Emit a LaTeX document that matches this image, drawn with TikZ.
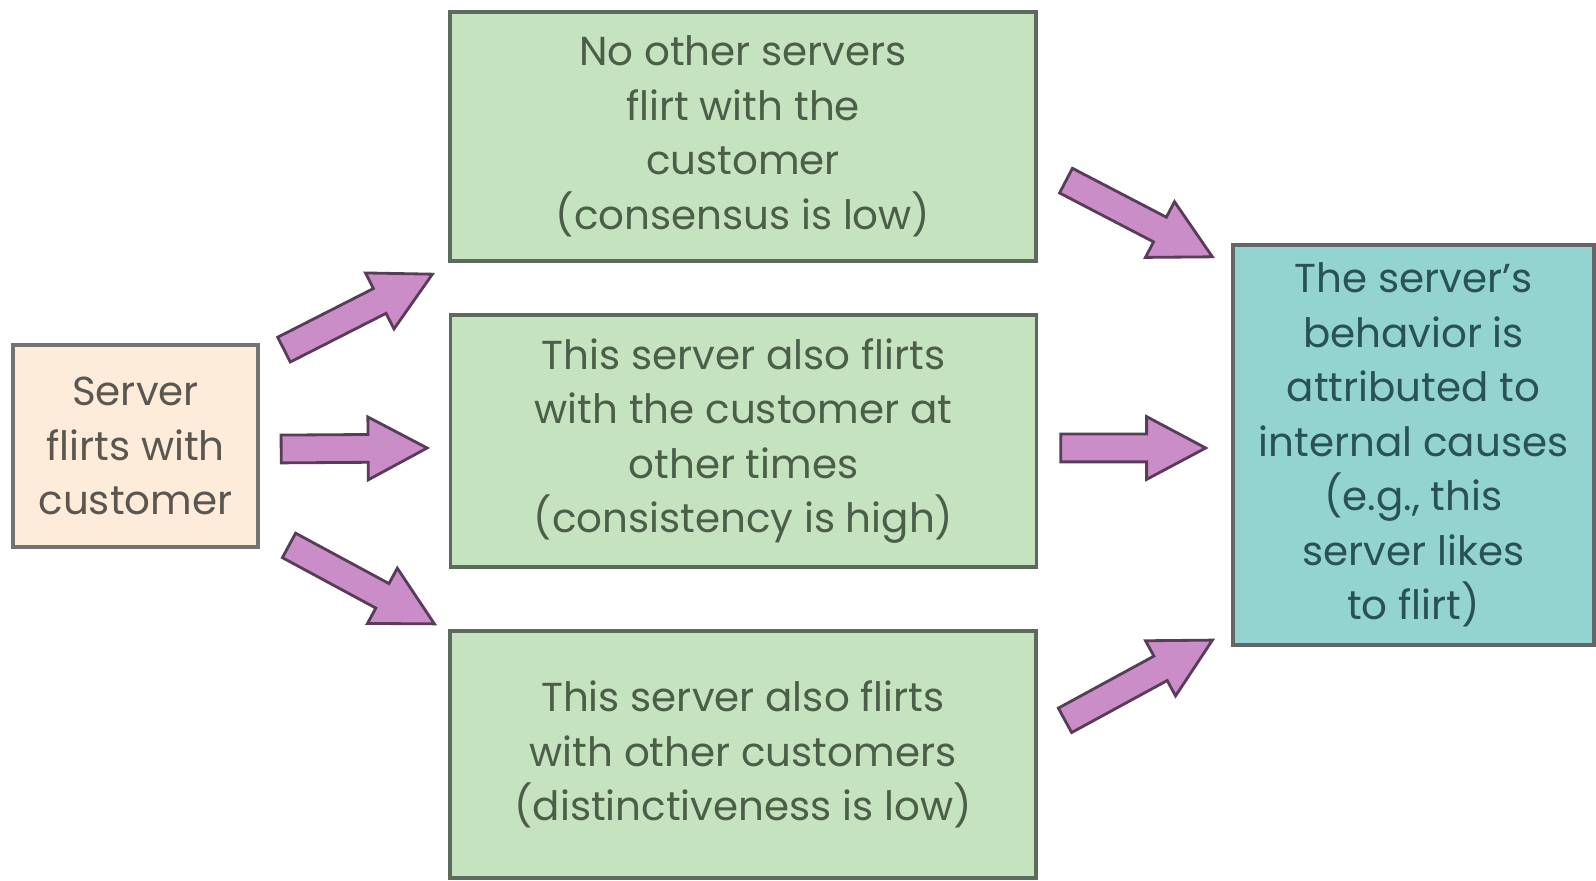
\documentclass[tikz,border=0pt]{standalone}
\usepackage{fontspec}
\setmainfont{Poppins}
\usepackage{tikz}
\usetikzlibrary{calc, shapes.arrows}
\usepackage{xcolor}
\definecolor{peach}{RGB}{253,236,218}
\definecolor{mint}{RGB}{198,227,192}
\definecolor{aqua}{RGB}{148,212,208}
\definecolor{orchid}{RGB}{202,141,200}
\definecolor{plumline}{RGB}{88,60,88}
\definecolor{mintline}{RGB}{92,108,92}
\definecolor{minttext}{RGB}{74,94,72}
\definecolor{peachtext}{RGB}{92,86,80}
\definecolor{aquatext}{RGB}{40,82,86}

\begin{document}
\begin{tikzpicture}[
    box/.style={draw, line width=1pt, inner sep=0pt, align=center,
      font=\fontsize{11.5}{15.5}\selectfont},
    cue/.style={box, draw=mintline, fill=mint, text=minttext,
      minimum width=5.86cm, minimum height=2.49cm},
    flowarrow/.style={single arrow, draw=plumline, fill=orchid, line width=0.8pt,
      inner xsep=0pt, inner ysep=0.125cm, single arrow head extend=0.175cm,
      single arrow tip angle=56}
  ]
  \useasboundingbox (0,0) rectangle (15.96,8.80);

  \node[box, draw=black!55, fill=peach, text=peachtext, minimum width=2.45cm, minimum height=2.02cm]
    (srv) at (1.355,4.34) {Server\\flirts with\\customer};

  \node[cue] (cons) at (7.43,7.435) {No other servers\\flirt with the\\customer\\(consensus is low)};
  \node[cue, minimum height=2.52cm] (consis) at (7.435,4.39) {This server also flirts\\with the customer at\\other times\\(consistency is high)};
  \node[cue, minimum height=2.47cm] (dist) at (7.43,1.255) {This server also flirts\\with other customers\\(distinctiveness is low)};

  \node[box, draw=black!60, fill=aqua, text=aquatext, minimum width=3.61cm, minimum height=4.0cm]
    (intern) at (14.135,4.35) {The server's\\behavior is\\attributed to\\internal causes\\(e.g., this\\server likes\\to flirt)};

  \coordinate (a1s) at ([shift={(0.23,-0.07)}]srv.north east);
  \coordinate (a1t) at ([shift={(-0.17,-0.12)}]cons.south west);
  \coordinate (a2s) at ([shift={(0.20,-0.03)}]srv.east);
  \coordinate (a2t) at ([shift={(-0.23,-0.07)}]consis.west);
  \coordinate (a3s) at ([shift={(0.28,0.04)}]srv.south east);
  \coordinate (a3t) at ([shift={(-0.15,0.06)}]dist.north west);
  \coordinate (b1s) at ([shift={(0.27,-0.435)}]cons.east);
  \coordinate (b1t) at ([shift={(-0.20,-0.13)}]intern.north west);
  \coordinate (b2s) at ([shift={(0.21,-0.07)}]consis.east);
  \coordinate (b2t) at ([shift={(-0.27,-0.03)}]intern.west);
  \coordinate (b3s) at ([shift={(0.26,0.335)}]dist.east);
  \coordinate (b3t) at ([shift={(-0.20,0.06)}]intern.south west);

  \foreach \s/\t in {a1s/a1t, a2s/a2t, a3s/a3t, b1s/b1t, b2s/b2t, b3s/b3t}
    \path let \p1=(\s), \p2=(\t) in
      node[flowarrow, anchor=tail, rotate={atan2(\y2-\y1,\x2-\x1)},
        minimum height={veclen(\x2-\x1,\y2-\y1)}] at (\p1) {};
\end{tikzpicture}
\end{document}
